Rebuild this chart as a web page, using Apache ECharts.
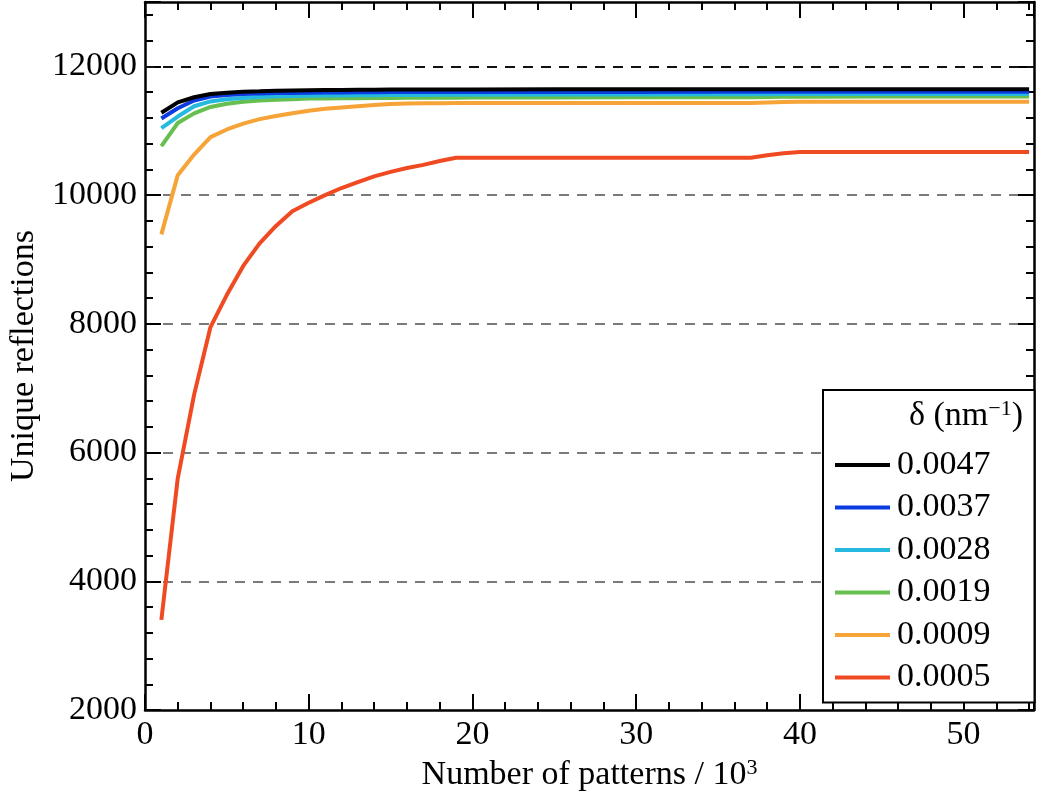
<!DOCTYPE html>
<html>
<head>
<meta charset="utf-8">
<script src="https://cdn.jsdelivr.net/npm/echarts@6/dist/echarts.min.js"></script>
<style>
html,body{margin:0;padding:0;background:#fff;}
#chart{width:1050px;height:807px;}
</style>
</head>
<body>
<div id="chart"></div>
<script>
// Number of patterns (x 10^3)
const patterns = [1,2,3,4,5,6,7,8,9,10,11,12,13,14,15,16,17,18,19,20,25,30,35,37,38,39,40,45,50,54];

const d0047 = [11280,11440,11520,11570,11590,11605,11612,11620,11625,11630,11632,11634,11636,11638,11640,11640,11641,11641,11642,11642,11643,11643,11644,11644,11644,11645,11645,11645,11645,11645];
const d0037 = [11190,11350,11470,11530,11555,11570,11578,11585,11588,11590,11592,11594,11596,11598,11600,11600,11601,11601,11602,11602,11603,11603,11604,11604,11604,11605,11605,11605,11605,11605];
const d0028 = [11040,11220,11380,11455,11490,11510,11525,11535,11540,11545,11547,11549,11551,11553,11555,11556,11557,11558,11559,11560,11562,11564,11566,11567,11568,11569,11570,11570,11570,11570];
const d0019 = [10760,11120,11270,11370,11420,11450,11470,11480,11490,11500,11502,11504,11506,11508,11510,11511,11512,11513,11514,11515,11517,11519,11521,11522,11524,11526,11528,11530,11530,11530];
const d0009 = [9390,10310,10630,10900,11020,11110,11180,11230,11270,11310,11340,11360,11380,11400,11415,11422,11426,11428,11430,11430,11430,11430,11430,11430,11440,11448,11450,11450,11450,11450];
const d0005 = [3400,5600,6900,7950,8450,8900,9250,9520,9750,9880,10000,10110,10200,10290,10360,10420,10470,10530,10580,10580,10580,10580,10580,10580,10620,10650,10670,10670,10670,10670];

const seriesNames = ['0.0047','0.0037','0.0028','0.0019','0.0009','0.0005'];
const seriesValues = [d0047, d0037, d0028, d0019, d0009, d0005];
const seriesColors = ['#000000','#0a3ce0','#25b9e0','#66bf4e','#f6a338','#f04a22'];

const FONT = 'Liberation Serif';

const chart = echarts.init(document.getElementById('chart'), null, {renderer:'canvas'});

const tickCommon = {
  axisLine: {show:true, onZero:false, lineStyle:{color:'#000', width:2.5}},
  axisTick: {show:true, inside:true, length:16, lineStyle:{color:'#000', width:2}},
  minorTick: {show:true, splitNumber:5, length:8, lineStyle:{color:'#000', width:2}},
};

const series = seriesNames.map((n, i) => ({
  name: n,
  type: 'line',
  data: patterns.map((x, j) => [x, seriesValues[i][j]]),
  showSymbol: false,
  symbol: 'none',
  smooth: false,
  lineStyle: {color: seriesColors[i], width: 4},
  itemStyle: {color: seriesColors[i]},
  z: 10 - i
}));

// darker reference line at 12000
series.push({
  name: 'ref',
  type: 'line',
  data: [],
  markLine: {
    silent: true,
    symbol: 'none',
    label: {show:false},
    lineStyle: {color:'#111', type:[10,8], width:2},
    data: [{yAxis: 12000}]
  }
});

const option = {
  backgroundColor: '#fff',
  animation: false,
  grid: {left:145, right:16, top:2, bottom:97, containLabel:false, outerBoundsMode:'none'},
  xAxis: [
    Object.assign({
      type:'value', min:0, max:54.3, interval:10, position:'bottom',
      axisLabel: {show:true, color:'#000', fontFamily:FONT, fontSize:34, margin:8, showMaxLabel:false,
        formatter: v => String(v)},
      splitLine: {show:false},
      name: 'Number of patterns / 10{sup|3}',
      nameLocation: 'middle',
      nameGap: 47,
      nameTextStyle: {color:'#000', fontFamily:FONT, fontSize:34,
        rich: {sup: {fontFamily:FONT, fontSize:22, color:'#000', verticalAlign:'top', padding:[0,0,14,0]}}}
    }, tickCommon),
    Object.assign({
      type:'value', min:0, max:54.3, interval:10, position:'top',
      axisLabel: {show:false}, splitLine:{show:false}
    }, tickCommon)
  ],
  yAxis: [
    Object.assign({
      type:'value', min:2000, max:13000, interval:2000, position:'left',
      axisLabel: {show:true, color:'#000', fontFamily:FONT, fontSize:34, margin:8, showMaxLabel:false,
        formatter: v => String(v)},
      splitLine: {show:true, showMinLine:false, showMaxLine:false, lineStyle:{color:'#7a7a7a', type:[10,8], width:2}},
      name: 'Unique reflections',
      nameLocation: 'middle',
      nameGap: 100,
      nameTextStyle: {color:'#000', fontFamily:FONT, fontSize:34}
    }, tickCommon),
    Object.assign({
      type:'value', min:2000, max:13000, interval:2000, position:'right',
      axisLabel: {show:false}, splitLine:{show:false}
    }, tickCommon)
  ],
  legend: {
    show: true,
    data: seriesNames,
    orient: 'vertical',
    left: 823,
    top: 390,
    backgroundColor: '#fff',
    borderColor: '#000',
    borderWidth: 2,
    borderRadius: 0,
    padding: [57, 44, 7, 12],
    itemWidth: 55,
    itemHeight: 4,
    itemGap: 6.5,
    icon: 'rect',
    selectedMode: false,
    textStyle: {color:'#000', fontFamily:FONT, fontSize:34, lineHeight:36, padding:[0,0,0,2]},
    z: 20
  },
  graphic: [{
    type: 'text',
    right: 27,
    top: 398,
    z: 30,
    style: {
      text: 'δ (nm{sup|−1})',
      fill: '#000',
      font: '34px "Liberation Serif"',
      rich: {sup: {fontFamily:FONT, fontSize:22, fill:'#000', verticalAlign:'top', padding:[0,0,14,0]}}
    }
  }],
  series: series
};

chart.setOption(option);
</script>
</body>
</html>
